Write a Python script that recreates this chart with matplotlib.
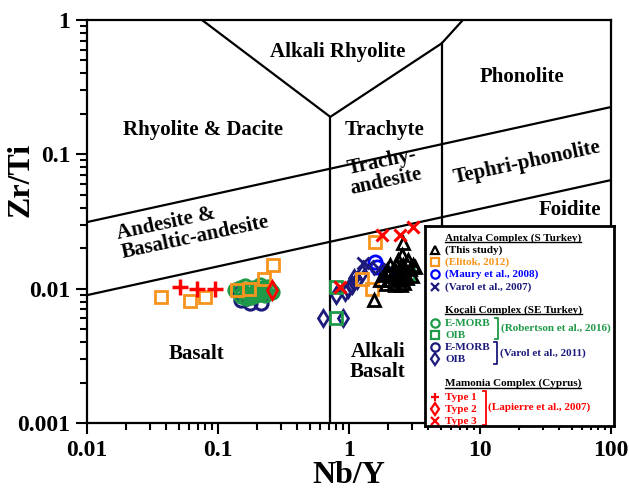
import matplotlib.pyplot as plt
import numpy as np

plt.rcParams['font.family'] = ['Liberation Serif', 'DejaVu Serif']
plt.rcParams['font.weight'] = 'bold'
plt.rcParams['mathtext.default'] = 'regular'

# colours
black = '#000000'
orange = '#F7941D'
blue = '#0000FF'
navy = '#1C1A7A'
green = '#1E9A48'
red = '#FF0000'

# ---- Antalya Complex (S Turkey) ----
this_study_nby = [1.72, 1.86, 1.95, 2.06, 2.06, 2.15, 2.24, 2.24, 2.30, 2.35, 2.45, 2.45,
                  2.50, 2.55, 2.60, 2.68, 2.75, 2.80, 2.92, 3.00, 3.10, 3.19, 2.20, 2.35,
                  2.65, 1.90, 2.00, 2.57, 1.55, 2.55]
this_study_zrti = [0.0116, 0.0126, 0.0138, 0.0150, 0.0116, 0.0126, 0.0138, 0.0106, 0.0150, 0.0163,
                   0.0126, 0.0138, 0.0106, 0.0116, 0.0150, 0.0130, 0.0120, 0.0163, 0.0140, 0.0125,
                   0.0150, 0.0145, 0.0110, 0.0120, 0.0110, 0.0108, 0.0128, 0.0217, 0.0082, 0.0178]
elitok_nby = [0.037, 0.061, 0.080, 0.139, 0.173, 0.224, 0.262, 1.58, 1.25, 1.49]
elitok_zrti = [0.0086, 0.0081, 0.0087, 0.0098, 0.0099, 0.0119, 0.0150, 0.0223, 0.0119, 0.0100]
maury_nby = [1.58, 1.65, 1.90, 2.10]
maury_zrti = [0.0159, 0.0145, 0.0130, 0.0125]
varol07_nby = [1.28, 1.40, 1.70]
varol07_zrti = [0.0155, 0.0148, 0.0140]

# ---- Koçali Complex (SE Turkey) ----
rob_emorb_nby = [0.135, 0.147, 0.155, 0.161, 0.170, 0.175, 0.185, 0.191, 0.200, 0.209, 0.220,
                 0.229, 0.240, 0.249, 0.260, 0.150, 0.180, 0.210, 0.230, 0.165, 0.195]
rob_emorb_zrti = [0.0098, 0.0101, 0.0094, 0.0104, 0.0097, 0.0090, 0.0102, 0.0095, 0.0099, 0.0092,
                  0.0101, 0.0096, 0.0103, 0.0098, 0.0094, 0.0088, 0.0087, 0.0106, 0.0090, 0.0085,
                  0.0089]
rob_oib_nby = [0.80, 0.80, 2.82]
rob_oib_zrti = [0.0103, 0.0061, 0.0126]
varol11_emorb_nby = [0.147, 0.175, 0.166, 0.214, 0.150]
varol11_emorb_zrti = [0.0093, 0.0078, 0.0085, 0.0078, 0.0082]
varol11_oib_nby = [0.63, 0.90, 0.80, 0.93, 1.05, 1.15, 1.26, 0.98, 1.10]
varol11_oib_zrti = [0.0060, 0.0060, 0.0090, 0.0094, 0.0106, 0.0116, 0.0131, 0.0100, 0.0120]

# ---- Mamonia Complex (Cyprus) ----
type1_nby = [0.051, 0.069, 0.095]
type1_zrti = [0.0103, 0.0100, 0.0100]
type2_nby = [0.257]
type2_zrti = [0.0098]
type3_nby = [1.78, 2.45, 3.10, 0.85]
type3_zrti = [0.0251, 0.0251, 0.0289, 0.0103]

# ---- field boundaries (Nb/Y, Zr/Ti) ----
upper_nby, upper_zrti = [0.01, 100], [0.0313, 0.225]
lower_nby, lower_zrti = [0.01, 100], [0.00895, 0.0643]
v_nby = [0.0755, 0.72, 5.1, 7.4]
v_zrti = [1.0, 0.19, 0.67, 1.0]
left_div_nby, left_div_zrti = [0.72, 0.72], [0.001, 0.19]
right_div_nby, right_div_zrti = [5.1, 5.1], [0.001, 0.67]

field_names = ['Alkali Rhyolite', 'Phonolite', 'Rhyolite & Dacite', 'Trachyte',
               'Tephri-phonolite', 'Trachy-\nandesite', 'Foidite',
               'Andesite &\nBasaltic-andesite', 'Basalt', 'Alkali\nBasalt']
field_nby = [0.824, 20.9, 0.0767, 1.88, 22.8, 1.85, 48.6, 0.0644, 0.069, 1.66]
field_zrti = [0.578, 0.376, 0.152, 0.152, 0.0861, 0.0738, 0.0385, 0.0283, 0.00326, 0.00284]
field_rot = [0, 0, 0, 0, 12, 12, 0, 12, 0, 0]
field_align = ['center', 'center', 'center', 'center', 'center', 'center', 'center',
               'left', 'center', 'center']

fig = plt.figure(figsize=(6.29, 4.96), dpi=100)
ax = fig.add_axes([87 / 629, 1 - 423 / 496, 524 / 629, 403 / 496])
ax.set_xscale('log')
ax.set_yscale('log')
ax.set_xlim(0.01, 100)
ax.set_ylim(0.001, 1)

lw = 1.6
for xs, ys in [(upper_nby, upper_zrti), (lower_nby, lower_zrti), (v_nby, v_zrti),
               (left_div_nby, left_div_zrti), (right_div_nby, right_div_zrti)]:
    ax.plot(xs, ys, color='black', lw=lw, solid_joinstyle='miter')

for name, x, y, r, al in zip(field_names, field_nby, field_zrti, field_rot, field_align):
    ax.text(x, y, name, ha='center', va='center', rotation=r, fontsize=15,
            fontweight='bold', linespacing=1.0, rotation_mode='anchor',
            multialignment=al)

# data points
ax.plot(varol11_oib_nby, varol11_oib_zrti, 'd', ms=8, mfc='none', mec=navy, mew=2)
ax.plot(varol11_emorb_nby, varol11_emorb_zrti, 'o', ms=9.5, mfc='none', mec=navy, mew=2.2)
ax.plot(rob_emorb_nby, rob_emorb_zrti, 'o', ms=9.5, mfc='none', mec=green, mew=2.2)
ax.plot(rob_oib_nby, rob_oib_zrti, 's', ms=8, mfc='none', mec=green, mew=2)
ax.plot(maury_nby, maury_zrti, 'o', ms=9.5, mfc='none', mec=blue, mew=2)
ax.plot(varol07_nby, varol07_zrti, 'x', ms=8, mec=navy, mew=2)
ax.plot(elitok_nby, elitok_zrti, 's', ms=8.5, mfc='none', mec=orange, mew=2)
ax.plot(this_study_nby, this_study_zrti, '^', ms=9, mfc='none', mec=black, mew=2)
ax.plot(type1_nby, type1_zrti, '+', ms=11, mec=red, mew=2.5)
ax.plot(type2_nby, type2_zrti, 'd', ms=9, mfc='none', mec=red, mew=2)
ax.plot(type3_nby, type3_zrti, 'x', ms=8, mec=red, mew=2.2)

ax.set_xticks([0.01, 0.1, 1, 10, 100], ['0.01', '0.1', '1', '10', '100'])
ax.set_yticks([0.001, 0.01, 0.1, 1], ['0.001', '0.01', '0.1', '1'])
ax.tick_params(which='both', direction='out', width=1.5, top=False, right=False,
               labelsize=17)
ax.tick_params(which='major', length=8, pad=4)
ax.tick_params(which='minor', length=5)
for s in ax.spines.values():
    s.set_linewidth(1.6)
ax.set_xlabel('Nb/Y', fontsize=23, fontweight='bold', labelpad=0)
ax.set_ylabel('Zr/Ti', fontsize=23, fontweight='bold')
ax.yaxis.set_label_coords(-0.098, 0.603)

# legend panel, laid out in its own pixel-like units
lax = fig.add_axes([425 / 629, 1 - 426 / 496, 189 / 629, 200 / 496])
lax.set_xlim(0, 189)
lax.set_ylim(200, 0)
lax.set_xticks([])
lax.set_yticks([])
for s in lax.spines.values():
    s.set_linewidth(2)

fs = 8
headers = [('Antalya Complex (S Turkey)', 12), ('Koçali Complex (SE Turkey)', 84),
           ('Mamonia Complex (Cyprus)', 157.5)]
entries = [
    ('^', black, 'none', 24, '(This study)'),
    ('s', orange, 'none', 36, '(Elitok, 2012)'),
    ('o', blue, 'none', 48, '(Maury et al., 2008)'),
    ('x', navy, navy, 61, '(Varol et al., 2007)'),
    ('o', green, 'none', 97, 'E-MORB'),
    ('s', green, 'none', 109, 'OIB'),
    ('o', navy, 'none', 121, 'E-MORB'),
    ('d', navy, 'none', 133, 'OIB'),
    ('+', red, red, 171, 'Type 1'),
    ('d', red, 'none', 183, 'Type 2'),
    ('x', red, red, 195, 'Type 3'),
]
header_texts = []
for txt, y in headers:
    t = lax.text(20, y, txt, fontsize=fs, fontweight='bold', va='center', ha='left')
    header_texts.append(t)
for m, c, fc, y, txt in entries:
    lax.plot([9.5], [y], m, ms=6, mfc=fc, mec=c, mew=1.6)
    lax.text(20, y, txt, fontsize=fs, fontweight='bold', color=c, va='center', ha='left')

# brackets with group references
brackets = [(70, 91.5, 112.5, green, '(Robertson et al., 2016)', 102),
            (69, 116, 138, navy, '(Varol et al., 2011)', 127),
            (57.5, 165, 199, red, '(Lapierre et al., 2007)', 181)]
for bx, y0, y1, c, txt, ty in brackets:
    lax.plot([bx, bx + 3, bx + 3, bx], [y0, y0, y1, y1], color=c, lw=1.3)
    lax.text(bx + 6, ty, txt, fontsize=fs, fontweight='bold', color=c, va='center', ha='left')

# underline the group headers
fig.canvas.draw()
inv = lax.transData.inverted()
for t in header_texts:
    bb = t.get_window_extent()
    (x0, _), (x1, _) = inv.transform([[bb.x0, bb.y0], [bb.x1, bb.y0]])
    _, yb = inv.transform([bb.x0, bb.y0])
    lax.plot([x0, x1], [yb - 0.5, yb - 0.5], color='black', lw=1.0)

fig.savefig('out.png', dpi=100)
